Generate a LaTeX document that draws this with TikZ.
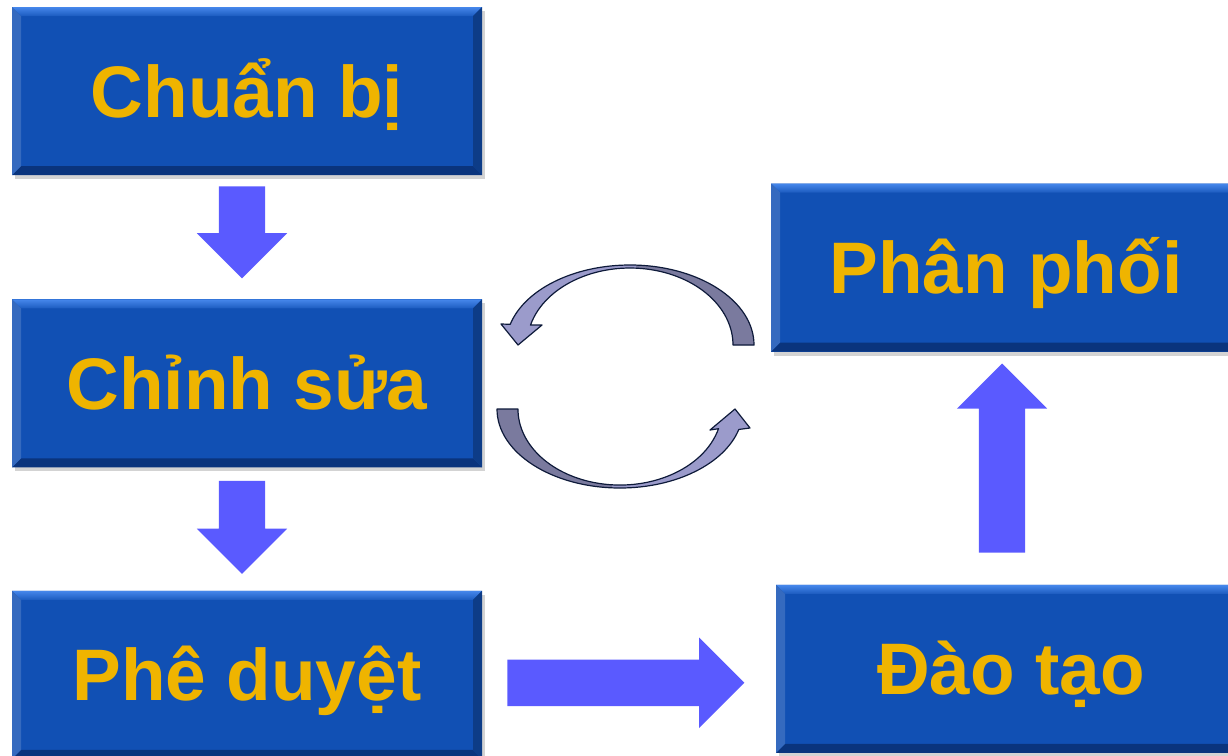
\documentclass[tikz,border=0pt]{standalone}
\usepackage{fontspec}
\setmainfont{Liberation Sans}
\usepackage{tikz}
\usetikzlibrary{calc,positioning,shapes.arrows,shadows}

\definecolor{boxblue}{RGB}{17,80,180}
\definecolor{boxlight}{RGB}{70,135,235}
\definecolor{boxdark}{RGB}{10,52,125}
\definecolor{labelgold}{RGB}{239,180,0}
\definecolor{flowblue}{RGB}{90,90,255}
\definecolor{cyclelight}{RGB}{155,155,203}
\definecolor{cycledark}{RGB}{122,122,158}
\definecolor{cycleline}{RGB}{14,26,58}

\tikzset{
  stage/.style={rectangle,fill=boxblue,minimum width=470pt,minimum height=168pt,
    inner sep=0pt,text=labelgold,font=\fontsize{73pt}{80pt}\selectfont\bfseries,
    text height=52pt,text depth=0pt,
    drop shadow={shadow xshift=3pt,shadow yshift=-4pt,opacity=.35},
    path picture={
      \path (path picture bounding box.north west) coordinate (bnw)
            (path picture bounding box.south east) coordinate (bse) ;
      \fill[top color=boxlight,bottom color=boxblue!80!boxlight]
        (bnw) -- (bse |- bnw) -- ($(bse |- bnw)+(-9,-9)$) -- ($(bnw)+(9,-9)$) -- cycle ;
      \fill[boxdark]
        (bnw |- bse) -- (bse) -- ($(bse)+(-9,9)$) -- ($(bnw |- bse)+(9,9)$) -- cycle ;
      \fill[boxblue!85!white]
        (bnw) -- ($(bnw)+(9,-9)$) -- ($(bnw |- bse)+(9,9)$) -- (bnw |- bse) -- cycle ;
      \fill[boxblue!75!black]
        (bse |- bnw) -- ($(bse |- bnw)+(-9,-9)$) -- ($(bse)+(-9,9)$) -- (bse) -- cycle ;
    }},
  flow/.style={single arrow,fill=flowblue,draw=none,inner sep=23pt,anchor=tail,
    minimum width=90pt,single arrow head extend=22pt,single arrow tip angle=90,
    single arrow head indent=0pt},
  cycle/.style={draw=cycleline,line width=1.2pt,line join=round},
}

\begin{document}
\begin{tikzpicture}[x=1pt,y=1pt]
%
  \useasboundingbox (0,0) rectangle (1228,-755) ;
%
  \node[stage] (prep) at (247,-91) {Chuẩn bị} ;
  \node[stage,below=124pt of prep] (edit) {Chỉnh sửa} ;
  \node[stage,below=123pt of edit] (appr) {Phê duyệt} ;
  \node[stage] (dist) at (1006,-267.5) {Phân phối} ;
  \node[stage,below=233pt of dist,xshift=5pt] (train) {Đào tạo} ;
%
  \node[flow,rotate=-90,minimum height=92pt] (a1) at ($(prep.south)+(-5,-11)$) {} ;
  \node[flow,rotate=-90,minimum height=93pt] (a2) at ($(edit.south)+(-5,-13)$) {} ;
  \node[flow,minimum height=237pt] (a3) at ($(appr.east)+(25,-8)$) {} ;
  \node[flow,rotate=90,minimum height=189pt] (a4) at ($(train.north)+(-9,32)$) {} ;
%
  % the two curved arrows of the loop
  \path[save path=\toploop]
    (754,-345) arc[start angle=0,end angle=165,x radius=124,y radius=80]
    -- (501,-324) -- (518,-345) -- (542,-325)
    -- (530.5,-325.1) arc[start angle=165,end angle=0,x radius=103,y radius=77] -- cycle ;
  \path[save path=\bottomloop]
    (497,-409) arc[start angle=180,end angle=345,x radius=123,y radius=79]
    -- (750,-428) -- (735,-409) -- (710,-430)
    -- (718.5,-428.7) arc[start angle=345,end angle=180,x radius=102,y radius=76] -- cycle ;
%
  \fill[cyclelight,use path=\toploop] ;
  \begin{scope}
    \clip (636,-250) rectangle (770,-360) ;
    \fill[cycledark,use path=\toploop] ;
  \end{scope}
  \draw[cycle,use path=\toploop] ;
%
  \fill[cyclelight,use path=\bottomloop] ;
  \begin{scope}
    \clip (480,-395) rectangle (612,-500) ;
    \fill[cycledark,use path=\bottomloop] ;
  \end{scope}
  \draw[cycle,use path=\bottomloop] ;
%
\end{tikzpicture}
\end{document}
